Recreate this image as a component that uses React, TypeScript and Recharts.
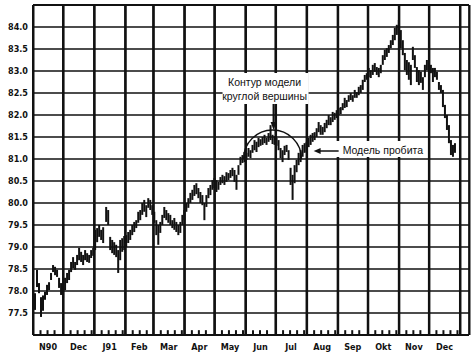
import {
  ComposedChart,
  Bar,
  XAxis,
  YAxis,
  CartesianGrid,
  ReferenceLine,
  ReferenceDot,
} from "recharts";

// calendar day counted from 1 Nov 1990
const days = [
  // Nov 90
  2, 4, 6, 8, 10, 12, 14, 16, 18, 20, 22, 24, 26, 28, 30,
  // Dec
  32, 34, 36, 38, 40, 42, 44, 46, 48, 50, 52, 54, 56, 58, 60,
  // Jan 91
  62, 64, 66, 68, 70, 73, 75, 77, 79, 81, 83, 85, 87, 89, 91,
  // Feb
  93, 95, 97, 99, 101, 103, 105, 107, 109, 111, 113, 115, 117, 119,
  // Mar
  121, 123, 125, 127, 129, 131, 133, 135, 137, 139, 141, 143, 145, 147, 149,
  // Apr
  151, 153, 155, 157, 159, 161, 163, 165, 167, 169, 171, 173, 175, 177, 179,
  // May
  181, 183, 185, 187, 189, 191, 193, 195, 197, 199, 201, 203, 205, 207, 209, 211,
  // Jun
  213, 215, 217, 219, 221, 223, 225, 227, 229, 231, 233, 235, 237, 239, 241,
  // Jul
  243, 245, 247, 249, 251, 253, 255, 257, 259, 261, 263, 265, 267, 269, 271,
  // Aug
  273, 275, 277, 279, 281, 283, 285, 287, 289, 291, 293, 295, 297, 299, 301,
  // Sep
  303, 305, 307, 309, 311, 313, 315, 317, 319, 321, 323, 325, 327, 329, 331,
  // Okt
  333, 335, 337, 339, 341, 343, 345, 347, 349, 351, 353, 355, 357, 359, 361, 363,
  // Nov
  365, 367, 369, 371, 373, 375, 377, 379, 381, 383, 385, 387, 389, 391, 393,
  // Dec
  395, 397, 399, 401, 403, 405, 407, 409, 411, 413, 415, 417, 419, 421,
];

const highs = [
  77.95, 78.48, 78.18, 77.86, 77.9, 77.98, 78.14, 78.2, 78.41, 78.59, 78.55, 78.48, 78.3, 78.18, 78.09,
  78.3, 78.41, 78.48, 78.66, 78.77, 78.66, 78.82, 78.98, 78.89, 78.82, 78.93, 78.86, 78.82, 78.93, 78.98,
  79.39, 79.43, 79.5, 79.39, 79.45, 79.91, 79.84, 79.23, 79.16, 79.11, 79.05, 78.93, 79.16, 79.2, 79.25,
  79.27, 79.34, 79.39, 79.5, 79.57, 79.61, 79.8, 79.84, 80.0, 80.07, 79.95, 80.11, 80.07, 79.95,
  79.8, 79.61, 79.5, 79.57, 79.73, 79.91, 79.84, 79.77, 79.73, 79.61, 79.66, 79.57, 79.5, 79.57, 79.73,
  79.84, 80.0, 80.11, 80.23, 80.3, 80.41, 80.45, 80.34, 80.25, 80.18, 80.0, 80.18, 80.34, 80.41, 80.52,
  80.57, 80.52, 80.48, 80.59, 80.64, 80.61, 80.7, 80.68, 80.75, 80.8, 80.75, 80.64, 80.86, 81.05, 81.09, 81.16,
  81.14, 81.25, 81.2, 81.32, 81.43, 81.39, 81.48, 81.45, 81.5, 81.55, 81.48, 81.59, 81.77, 81.55, 81.52,
  81.48, 81.43, 81.25, 81.2, 81.3, 81.32, 81.2, 80.8, 80.64, 80.86, 80.98, 81.14, 81.2, 81.32, 81.36,
  81.39, 81.48, 81.55, 81.59, 81.61, 81.7, 81.84, 81.77, 81.73, 81.82, 81.89, 82.0, 81.95, 82.07, 82.05,
  82.11, 82.16, 82.18, 82.27, 82.39, 82.34, 82.45, 82.5, 82.45, 82.57, 82.52, 82.64, 82.68, 82.8, 82.91,
  82.95, 83.07, 83.02, 83.14, 83.18, 83.09, 83.07, 83.14, 83.36, 83.48, 83.52, 83.59, 83.7, 83.82, 83.98, 84.05,
  84.16, 83.93, 83.7, 83.41, 83.25, 83.2, 83.14, 83.55, 83.36, 83.09, 83.02, 82.98, 82.86, 83.14, 83.25,
  83.2, 83.14, 83.07, 83.07, 82.98, 82.75, 82.68, 82.57, 82.23, 82.0, 81.77, 81.43, 81.32, 81.36,
];

const lows = [
  77.57, 78.09, 77.95, 77.41, 77.55, 77.8, 77.91, 78.02, 78.25, 78.43, 78.36, 78.32, 78.07, 77.91, 77.84,
  78.02, 78.18, 78.25, 78.43, 78.52, 78.48, 78.59, 78.7, 78.66, 78.59, 78.7, 78.66, 78.64, 78.75, 78.8,
  78.93, 79.11, 79.23, 79.16, 79.09, 79.57, 79.5, 78.93, 78.86, 78.82, 78.77, 78.41, 78.7, 78.89, 78.93,
  79.0, 79.09, 79.16, 79.27, 79.34, 79.43, 79.55, 79.61, 79.73, 79.8, 79.68, 79.89, 79.84, 79.73,
  79.55, 79.27, 79.05, 79.32, 79.5, 79.66, 79.61, 79.55, 79.5, 79.43, 79.39, 79.34, 79.27, 79.32, 79.5,
  79.61, 79.8, 79.89, 80.0, 80.07, 80.16, 80.2, 80.11, 80.0, 79.95, 79.61, 79.91, 80.11, 80.18, 80.3,
  80.34, 80.25, 80.3, 80.41, 80.45, 80.41, 80.48, 80.52, 80.57, 80.61, 80.48, 80.3, 80.64, 80.86, 80.91, 80.93,
  80.98, 81.05, 81.02, 81.14, 81.2, 81.16, 81.27, 81.3, 81.32, 81.36, 81.32, 81.39, 81.43, 81.34, 81.32,
  81.3, 81.2, 81.02, 80.93, 81.09, 81.16, 80.98, 80.41, 80.07, 80.45, 80.7, 80.86, 80.93, 81.05, 81.14,
  81.16, 81.27, 81.32, 81.39, 81.43, 81.5, 81.61, 81.55, 81.55, 81.61, 81.7, 81.77, 81.77, 81.84, 81.89,
  81.93, 82.0, 82.02, 82.11, 82.16, 82.18, 82.3, 82.34, 82.3, 82.39, 82.39, 82.45, 82.5, 82.57, 82.75,
  82.8, 82.86, 82.84, 82.91, 82.98, 82.91, 82.86, 82.95, 83.14, 83.25, 83.32, 83.41, 83.52, 83.59, 83.7, 83.82,
  83.86, 83.52, 83.36, 83.02, 82.91, 82.8, 82.68, 83.25, 83.07, 82.75, 82.68, 82.73, 82.57, 82.86, 83.02,
  82.98, 82.95, 82.75, 82.86, 82.8, 82.57, 82.5, 82.18, 81.93, 81.66, 81.36, 81.09, 81.05, 81.14,
];

const priceTicks = [77.5, 78.0, 78.5, 79.0, 79.5, 80.0, 80.5, 81.0, 81.5, 82.0, 82.5, 83.0, 83.5, 84.0];
// first day of each month, Nov 90 .. Jan 92
const monthStarts = [0, 30, 61, 92, 120, 151, 181, 212, 242, 273, 304, 334, 365, 395, 426];
const monthLabels = ["N90", "Dec", "J91", "Feb", "Mar", "Apr", "May", "Jun", "Jul", "Aug", "Sep", "Okt", "Nov", "Dec"];
const weekTicks = [7, 14, 21, 37, 44, 51, 58, 68, 75, 82, 89, 99, 106, 113, 127, 134, 141, 148,
  158, 165, 172, 188, 195, 202, 209, 219, 226, 233, 249, 256, 263, 270, 280, 287, 294, 301,
  311, 318, 325, 341, 348, 355, 362, 372, 379, 386, 402, 409, 416, 423];

const DAY_MAX = 435;
const data = days.map((d, i) => ({ day: d, range: [lows[i], highs[i]] }));
// month rules (plus the right frame edge) and the short weekly marks
const ruleData = [
  ...[...monthStarts, DAY_MAX].map((d) => ({ day: d, rule: [77, 84.5] })),
  ...weekTicks.map((d) => ({ day: d, rule: [77, 77.11] })),
].sort((a, b) => a.day - b.day);

const W = 475;
const H = 359;
const M = { top: 5, right: 6, bottom: 0, left: 0 };
const Y_W = 33;
const pxPerDay = (W - M.left - M.right - Y_W) / DAY_MAX;

const INK = "#111";
const axisFont = { fontSize: 9, fontWeight: 700, fill: INK, fontFamily: "'DejaVu Sans Condensed', 'DejaVu Sans', sans-serif" };
const noteFont = { fontSize: 10.5, fill: INK, fontFamily: "'Liberation Sans', Arial, sans-serif" };

// month name centred inside its month
function MonthTick({ x, y, payload }: any) {
  const v = payload.value;
  const i = monthStarts.indexOf(v);
  if (i < 0 || i >= monthLabels.length) return <g />;
  const next = monthStarts[i + 1];
  return (
    <text x={x + ((next - v) / 2) * pxPerDay} y={y + 15} textAnchor="middle" {...axisFont}>
      {monthLabels[i]}
    </text>
  );
}

function RoundTopNote({ cx, cy }: any) {
  return (
    <g>
      <path d={`M ${cx - 29} ${cy} A 29 29 0 0 1 ${cx + 29} ${cy}`} fill="none" stroke={INK} strokeWidth={1.3} />
      <rect x={cx - 50} y={cy - 86} width={86} height={31} fill="#fff" />
      <text x={cx - 8} y={cy - 73} textAnchor="middle" {...noteFont}>Контур модели</text>
      <text x={cx - 8} y={cy - 59} textAnchor="middle" {...noteFont}>круглой вершины</text>
      <line x1={cx + 1} y1={cy - 55} x2={cx + 1} y2={cy - 36} stroke={INK} strokeWidth={2} />
      <path d={`M ${cx - 2} ${cy - 37} L ${cx + 4} ${cy - 37} L ${cx + 1} ${cy - 29} Z`} fill={INK} />
    </g>
  );
}

function BreakNote({ cx, cy }: any) {
  return (
    <g>
      <rect x={cx + 22} y={cy - 18} width={91} height={16} fill="#fff" />
      <text x={cx + 29} y={cy - 5} {...noteFont}>Модель пробита</text>
      <line x1={cx + 5} y1={cy - 8} x2={cx + 25} y2={cy - 8} stroke={INK} strokeWidth={1.5} />
      <path d={`M ${cx} ${cy - 8} L ${cx + 7} ${cy - 11} L ${cx + 7} ${cy - 5} Z`} fill={INK} />
    </g>
  );
}

export default function App() {
  return (
    <div style={{ position: "absolute", left: 0, top: 0, width: W, height: H }}>
      {/* price chart with axes and horizontal grid */}
      <div style={{ position: "absolute", left: 0, top: 0 }}>
        <ComposedChart width={W} height={H} data={data} margin={M}>
          <CartesianGrid stroke={INK} strokeWidth={1.5} />
          {monthStarts.map((d) => (
            <ReferenceLine key={d} x={d} stroke={INK} strokeWidth={2} />
          ))}
          <ReferenceLine y={84.5} stroke={INK} strokeWidth={2} />
          <XAxis
            dataKey="day"
            type="number"
            domain={[0, DAY_MAX]}
            ticks={monthStarts}
            interval={0}
            axisLine={{ stroke: INK, strokeWidth: 2 }}
            tickLine={false}
            tickMargin={0}
            tickSize={0}
            height={24}
            tick={<MonthTick />}
          />
          <YAxis
            type="number"
            domain={[77, 84.5]}
            ticks={priceTicks}
            interval={0}
            tickFormatter={(v: number) => v.toFixed(1)}
            axisLine={{ stroke: INK, strokeWidth: 2 }}
            tickLine={false}
            tickSize={3}
            tickMargin={2}
            width={Y_W}
            tick={axisFont}
          />
          <Bar dataKey="range" fill={INK} barSize={2} isAnimationActive={false} />
        </ComposedChart>
      </div>
      {/* vertical rules, weekly marks and the notes, on top with the same scales */}
      <div style={{ position: "absolute", left: 0, top: 0, pointerEvents: "none" }}>
        <ComposedChart width={W} height={H} data={ruleData} margin={M}>
          <XAxis dataKey="day" type="number" domain={[0, DAY_MAX]} height={24} tick={false} axisLine={false} tickLine={false} />
          <YAxis type="number" domain={[77, 84.5]} width={Y_W} tick={false} axisLine={false} tickLine={false} />
          <Bar dataKey="rule" fill={INK} barSize={2} isAnimationActive={false} />
          <ReferenceDot x={239} y={81} r={0} shape={RoundTopNote} />
          <ReferenceDot x={280} y={81} r={0} shape={BreakNote} />
        </ComposedChart>
      </div>
    </div>
  );
}
